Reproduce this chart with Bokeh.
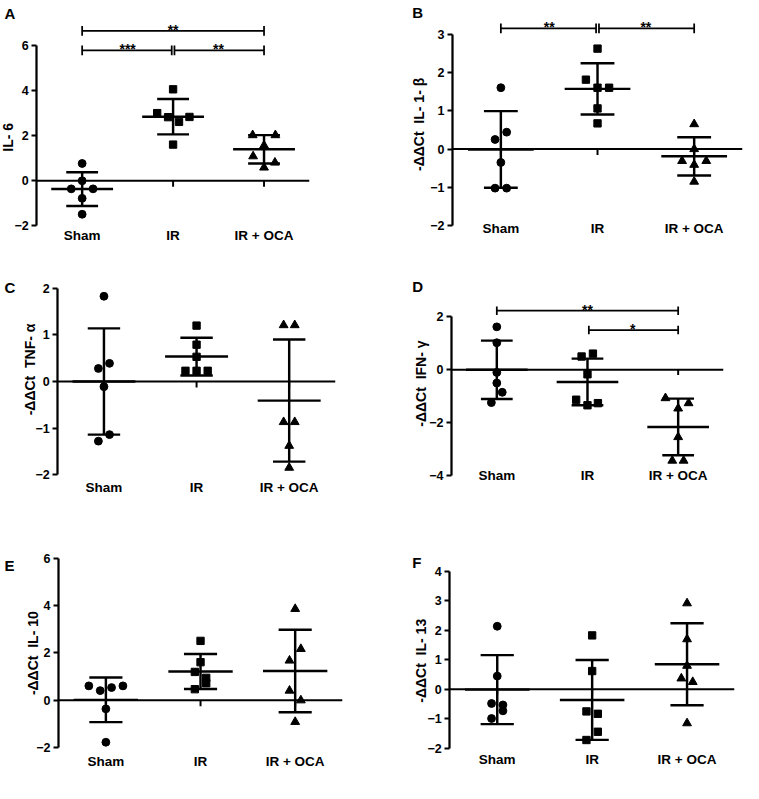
import math
from bokeh.plotting import figure
from bokeh.models import FixedTicker, ColumnDataSource
from bokeh.layouts import row, column
from bokeh.embed import file_html
from bokeh.resources import INLINE
from bokeh.core.properties import value

# ---------------- data ----------------
categories = ["Sham", "IR", "IR + OCA"]
group_markers = ["circle", "square", "triangle"]

# A  IL-6
il6_sham = [0.77, 0.00, -0.36, -0.36, -0.78, -1.49]
il6_ir = [4.07, 3.01, 2.83, 2.62, 2.84, 1.61]
il6_oca = [2.03, 2.03, 1.57, 1.09, 0.81, 0.59]
il6_mean = [-0.37, 2.85, 1.40]
il6_sd = [0.75, 0.785, 0.63]
il6_sig = [(1, 3, 6.67, "**"), (1, 2, 5.80, "***"), (2, 3, 5.80, "**")]

# B  IL-1 beta
il1b_sham = [1.60, 0.44, 0.25, -0.35, -1.02, -1.02]
il1b_ir = [2.62, 1.81, 1.60, 1.60, 1.06, 0.67]
il1b_oca = [0.65, 0.00, -0.31, -0.31, -0.41, -0.85]
il1b_mean = [-0.01, 1.57, -0.19]
il1b_sd = [1.00, 0.67, 0.50]
il1b_sig = [(1, 2, 3.15, "**"), (2, 3, 3.15, "**")]

# C  TNF alpha
tnf_sham = [1.83, 0.39, 0.28, -0.11, -1.14, -1.28]
tnf_ir = [1.20, 0.79, 0.53, 0.23, 0.23, 0.23]
tnf_oca = [1.21, 1.21, -0.87, -0.87, -1.38, -1.85]
tnf_mean = [0.0, 0.535, -0.41]
tnf_sd = [1.14, 0.405, 1.31]
tnf_sig = []

# D  IFN gamma
ifn_sham = [1.62, 1.02, -0.10, -0.50, -0.85, -1.24]
ifn_ir = [0.50, 0.61, -0.17, -1.13, -1.34, -1.26]
ifn_oca = [-1.07, -1.26, -1.46, -2.54, -3.43, -3.43]
ifn_mean = [0.0, -0.46, -2.16]
ifn_sd = [1.10, 0.88, 1.07]
ifn_sig = [(1, 3, 2.23, "**"), (2, 3, 1.50, "*")]

# E  IL-10
il10_sham = [0.61, 0.61, 0.41, 0.54, -0.36, -1.77]
il10_ir = [2.51, 1.61, 1.20, 0.95, 0.72, 0.47]
il10_oca = [3.86, 2.17, 1.68, 0.41, 0.00, -0.91]
il10_mean = [0.02, 1.22, 1.24]
il10_sd = [0.94, 0.74, 1.74]
il10_sig = []

# F  IL-13
il13_sham = [2.14, 0.45, -0.48, -0.53, -0.73, -0.99]
il13_ir = [1.83, 0.62, -0.75, -0.83, -1.44, -1.72]
il13_oca = [2.92, 1.70, 0.80, 0.37, 0.25, -1.15]
il13_mean = [-0.01, -0.36, 0.85]
il13_sd = [1.17, 1.355, 1.39]
il13_sig = []

# horizontal spread of overlapping points (category units)
jit_a = [[0, 0, -0.12, 0.12, 0, 0], [0, -0.175, -0.055, 0.065, 0.18, 0], [-0.125, 0.125, 0, -0.12, 0.12, 0]]
jit_b = [[0, 0.06, -0.06, 0, -0.06, 0.06], [0, -0.12, 0, 0.12, 0, 0], [0, 0, -0.125, 0.125, 0, 0]]
jit_c = [[0, 0.06, -0.06, 0, 0.06, -0.06], [0, 0, 0, -0.12, 0, 0.12], [-0.06, 0.06, -0.06, 0.06, 0, 0]]
jit_d = [[0, 0, 0, 0, 0.06, -0.06], [-0.065, 0.06, 0, -0.125, 0, 0.115], [-0.14, 0.115, 0, 0, -0.065, 0.06]]
jit_e = [[-0.18, 0.18, -0.06, 0.06, 0, 0], [0, 0, -0.06, 0.06, 0.06, -0.06], [0, 0.06, -0.06, -0.06, 0.06, 0]]
jit_f = [[0, 0, -0.06, 0.06, 0.06, -0.06], [0, 0, -0.06, 0.06, 0.06, -0.06], [0, 0, 0, -0.06, 0.06, 0]]

# ---------------- layout / style ----------------
S = 743.0 / 759.0
FONT = "Liberation Sans"
MEAN_HALF = 0.34
CAP_HALF = 0.175
LW = 2.5 * S
PAD = 9  # ref px kept below the lowest tick so its label is not clipped
NB = "\u00a0"

# geometry in reference pixels (cell relative): fl = y-axis x, fw = width of 3 categories,
# zero = pixel row of y=0, dy = pixels per unit
panels = [
    dict(letter="A", ylabel="IL-" + NB + "6", groups=[il6_sham, il6_ir, il6_oca], jit=jit_a,
         mean=il6_mean, sd=il6_sd, sig=il6_sig, cell=(380, 270), fl=37, fw=279, zero=184.5, dy=23,
         yticks=[-2, 0, 2, 4, 6], letter_px=(4, 13.3), ylab_px=(7.5, 140), xstand=2),
    dict(letter="B", ylabel="-\u0394\u0394Ct" + NB * 2 + "IL-" + NB + "1-" + NB + "\u03b2",
         groups=[il1b_sham, il1b_ir, il1b_oca], jit=jit_b,
         mean=il1b_mean, sd=il1b_sd, sig=il1b_sig, cell=(379, 270), fl=81.7, fw=296, zero=152.3, dy=39.3,
         yticks=[-2, -1, 0, 1, 2, 3], letter_px=(40.7, 12.7), ylab_px=(47, 127), xstand=-5),
    dict(letter="C", ylabel="-\u0394\u0394Ct" + NB * 2 + "TNF-" + NB + "\u03b1",
         groups=[tnf_sham, tnf_ir, tnf_oca], jit=jit_c,
         mean=tnf_mean, sd=tnf_sd, sig=tnf_sig, cell=(380, 265), fl=58.3, fw=283.5, zero=119.3, dy=47.5,
         yticks=[-2, -1, 0, 1, 2], letter_px=(4, 23.3), ylab_px=(30, 107), xstand=5),
    dict(letter="D", ylabel="-\u0394\u0394Ct" + NB * 2 + "IFN-" + NB + "\u03b3",
         groups=[ifn_sham, ifn_ir, ifn_oca], jit=jit_d,
         mean=ifn_mean, sd=ifn_sd, sig=ifn_sig, cell=(379, 265), fl=80.7, fw=278, zero=122, dy=30.7,
         yticks=[-4, -2, 0, 2], letter_px=(40.7, 25), ylab_px=(50, 138), xstand=-7),
    dict(letter="E", ylabel="-\u0394\u0394Ct" + NB * 2 + "IL-" + NB + "10",
         groups=[il10_sham, il10_ir, il10_oca], jit=jit_e,
         mean=il10_mean, sd=il10_sd, sig=il10_sig, cell=(380, 264), fl=59.3, fw=290, zero=180.7, dy=24.2,
         yticks=[-2, 0, 2, 4, 6], letter_px=(4, 43.3), ylab_px=(33, 132.5), xstand=6),
    dict(letter="F", ylabel="-\u0394\u0394Ct" + NB * 2 + "IL-" + NB + "13",
         groups=[il13_sham, il13_ir, il13_oca], jit=jit_f,
         mean=il13_mean, sd=il13_sd, sig=il13_sig, cell=(379, 264), fl=79, fw=291, zero=181.2, dy=32.2,
         yticks=[-2, -1, 0, 1, 2, 3, 4], letter_px=(40.7, 42.7), ylab_px=(50, 150), xstand=4),
]


def build(cfg):
    W = round(cfg["cell"][0] * S)
    H = round(cfg["cell"][1] * S)
    dxp = cfg["fw"] / 3.0            # ref px per category
    dyp = cfg["dy"]                  # ref px per y unit
    zero = cfg["zero"]
    ymin, ymax = min(cfg["yticks"]), max(cfg["yticks"])
    fb = zero - ymin * dyp + PAD     # ref px of frame bottom
    x_start = 0.5 - cfg["fl"] / dxp
    frame_w = round((cfg["fl"] + cfg["fw"]) * S)
    frame_h = round(fb * S)
    y_start = ymin - PAD / dyp
    y_end = zero / dyp               # value at the top of the cell

    def px_to_x(px):
        return 0.5 + (px - cfg["fl"]) / dxp

    def px_to_y(py):
        return (zero - py) / dyp

    upp = 1.0 / (dyp * S)            # data units per screen px

    p = figure(width=W, height=H, x_range=(x_start, 3.5), y_range=(y_start, y_end),
               output_backend="svg", toolbar_location=None, title=None,
               min_border_left=0, min_border_right=W - frame_w,
               min_border_top=0, min_border_bottom=max(H - frame_h, 0))
    p.outline_line_color = None
    p.grid.visible = False
    p.background_fill_color = "white"
    p.border_fill_color = "white"

    cats = [1, 2, 3]
    xa = p.xaxis[0]
    xa.ticker = FixedTicker(ticks=cats)
    xa.major_label_overrides = {c: name for c, name in zip(cats, categories)}
    xa.axis_line_color = None
    xa.major_tick_line_color = None
    xa.minor_tick_line_color = None
    xa.major_tick_out = 0
    xa.major_label_standoff = round(cfg["xstand"] - PAD * S)
    xa.major_label_text_font = FONT
    xa.major_label_text_font_style = "bold"
    xa.major_label_text_font_size = "13.5px"
    xa.major_label_text_color = "black"

    ya = p.yaxis[0]
    ya.fixed_location = 0.5
    ya.ticker = FixedTicker(ticks=cfg["yticks"])
    ya.bounds = (ymin, ymax)
    ya.axis_line_width = 2.3 * S
    ya.axis_line_color = "black"
    ya.major_tick_out = 5
    ya.major_tick_in = 0
    ya.major_tick_line_width = 2
    ya.major_tick_line_color = "black"
    ya.minor_tick_line_color = None
    ya.major_label_standoff = 3
    ya.major_label_text_font = FONT
    ya.major_label_text_font_style = "bold"
    ya.major_label_text_font_size = "12.5px"
    ya.major_label_text_color = "black"

    # zero line (from the y axis to the right end) and its category ticks
    p.segment(x0=[0.5], y0=[0], x1=[3.5], y1=[0], line_color="black", line_width=2 * S)
    tick = 6 * S * upp
    p.segment(x0=cats, y0=[0] * 3, x1=cats, y1=[-tick] * 3, line_color="black", line_width=2 * S)

    # mean +/- SD
    means = cfg["mean"]
    sds = cfg["sd"]
    src = ColumnDataSource(dict(
        x=cats,
        ml=[c - MEAN_HALF for c in cats], mr=[c + MEAN_HALF for c in cats],
        cl=[c - CAP_HALF for c in cats], cr=[c + CAP_HALF for c in cats],
        m=means, lo=[m - s for m, s in zip(means, sds)], hi=[m + s for m, s in zip(means, sds)]))
    p.segment(x0="ml", y0="m", x1="mr", y1="m", source=src, line_color="black", line_width=LW)
    p.segment(x0="x", y0="lo", x1="x", y1="hi", source=src, line_color="black", line_width=LW)
    p.segment(x0="cl", y0="lo", x1="cr", y1="lo", source=src, line_color="black", line_width=LW)
    p.segment(x0="cl", y0="hi", x1="cr", y1="hi", source=src, line_color="black", line_width=LW)

    # individual points
    sizes = {"circle": 8 * S, "square": 7.5 * S, "triangle": 9 * S}
    for c, vals, jit, mk in zip(cats, cfg["groups"], cfg["jit"], group_markers):
        p.scatter(x=[c + j for j in jit], y=vals, marker=mk, size=sizes[mk],
                  fill_color="black", line_color="black")

    # significance brackets
    if cfg["sig"]:
        half = 5 * S * upp
        x0s, x1s, ys, tx, ty, tt = [], [], [], [], [], []
        for i, j, lev, txt in cfg["sig"]:
            a = i + (0.015 if i == 2 else 0)
            b = j - (0.015 if j == 2 else 0)
            x0s.append(a); x1s.append(b); ys.append(lev)
            tx.append((i + j) / 2); ty.append(lev + 1 * S * upp); tt.append(txt)
        p.segment(x0=x0s, y0=ys, x1=x1s, y1=ys, line_color="black", line_width=1.8 * S)
        ex = x0s + x1s
        ey = ys + ys
        p.segment(x0=ex, y0=[y - half for y in ey], x1=ex, y1=[y + half for y in ey],
                  line_color="black", line_width=1.8 * S)
        p.text(x=tx, y=ty, text=tt, text_align="center", text_baseline="alphabetic",
               text_font=value(FONT), text_font_style="bold", text_font_size="14px",
               text_color="black")

    # panel letter and y label
    lpx, lpy = cfg["letter_px"]
    p.text(x=[px_to_x(lpx)], y=[px_to_y(lpy)], text=[cfg["letter"]], text_align="left",
           text_baseline="alphabetic", text_font=value(FONT), text_font_style="bold",
           text_font_size="15px", text_color="black")
    ypx, ypy = cfg["ylab_px"]
    p.text(x=[px_to_x(ypx)], y=[px_to_y(ypy)], text=[cfg["ylabel"]], angle=math.pi / 2,
           text_align="center", text_baseline="middle", text_font=value(FONT),
           text_font_style="bold", text_font_size="14px", text_color="black")
    return p


figs = [build(c) for c in panels]
layout = column(row(figs[0], figs[1]), row(figs[2], figs[3]), row(figs[4], figs[5]))
open("out.html", "w").write(file_html(layout, INLINE))
